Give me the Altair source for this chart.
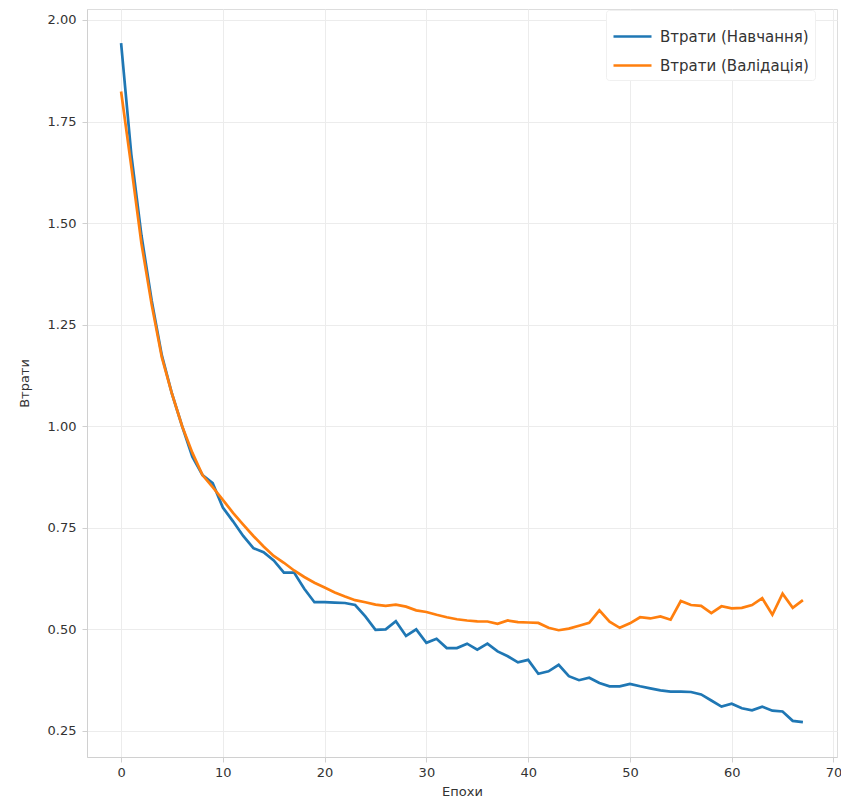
import altair as alt
import pandas as pd

# Epoch indices and per-epoch loss values
epochs = list(range(68))

train_loss = [
    1.943, 1.67, 1.47, 1.31, 1.175, 1.08, 1.00, 0.925, 0.88, 0.86,
    0.80, 0.766, 0.73, 0.70, 0.69, 0.67, 0.64, 0.64, 0.60, 0.567,
    0.567, 0.566, 0.565, 0.56, 0.532, 0.499, 0.50, 0.52, 0.484, 0.50,
    0.467, 0.477, 0.454, 0.454, 0.465, 0.450, 0.465, 0.446, 0.434, 0.419,
    0.425, 0.391, 0.397, 0.413, 0.385, 0.375, 0.381, 0.368, 0.36, 0.36,
    0.366, 0.36, 0.355, 0.35, 0.347, 0.347, 0.346, 0.34, 0.325, 0.31,
    0.317, 0.306, 0.301, 0.31, 0.30, 0.298, 0.275, 0.272,
]

val_loss = [
    1.824, 1.64, 1.45, 1.30, 1.17, 1.08, 1.00, 0.935, 0.88, 0.85,
    0.819, 0.787, 0.758, 0.73, 0.704, 0.681, 0.664, 0.645, 0.629, 0.615,
    0.603, 0.591, 0.581, 0.572, 0.567, 0.561, 0.558, 0.561, 0.556, 0.547,
    0.543, 0.536, 0.530, 0.525, 0.522, 0.520, 0.5195, 0.514, 0.522, 0.518,
    0.517, 0.516, 0.504, 0.498, 0.502, 0.509, 0.516, 0.547, 0.519, 0.504,
    0.515, 0.53, 0.527, 0.532, 0.524, 0.57, 0.56, 0.558, 0.54, 0.557,
    0.552, 0.553, 0.56, 0.577, 0.536, 0.588, 0.553, 0.572,
]

series_names = ["Втрати (Навчання)", "Втрати (Валідація)"]
series_colors = ["#1f77b4", "#ff7f0e"]

x_ticks = [0, 10, 20, 30, 40, 50, 60, 70]
y_ticks = [0.25, 0.50, 0.75, 1.00, 1.25, 1.50, 1.75, 2.00]

df = pd.concat([
    pd.DataFrame({"epoch": epochs, "loss": train_loss, "series": series_names[0]}),
    pd.DataFrame({"epoch": epochs, "loss": val_loss, "series": series_names[1]}),
], ignore_index=True)

FONT = "DejaVu Sans"
TEXT = "#333333"

chart = (
    alt.Chart(df)
    .mark_line(strokeWidth=2.7, clip=True)
    .encode(
        x=alt.X(
            "epoch:Q",
            title="Епохи",
            scale=alt.Scale(domain=[-3.35, 70.35], nice=False, zero=False),
            axis=alt.Axis(values=x_ticks, format="d", labelPadding=4, titlePadding=6),
        ),
        y=alt.Y(
            "loss:Q",
            title="Втрати",
            scale=alt.Scale(domain=[0.186, 2.027], nice=False, zero=False),
            axis=alt.Axis(values=y_ticks, format=".2f", labelPadding=6, titlePadding=16),
        ),
        color=alt.Color(
            "series:N",
            scale=alt.Scale(domain=series_names, range=series_colors),
            legend=alt.Legend(
                title=None,
                orient="none",
                legendX=519,
                legendY=1,
                symbolType="stroke",
                symbolSize=1444,
                symbolStrokeWidth=2.7,
                labelFontSize=15,
                labelFont=FONT,
                labelColor=TEXT,
                labelOffset=7,
                rowPadding=0,
                padding=6,
                fillColor="#ffffff",
                strokeColor="#f0f0f0",
                cornerRadius=3,
            ),
        ),
        order="epoch:Q",
    )
    .properties(
        width=750,
        height=748,
        padding={"left": 87, "top": 9, "right": 4, "bottom": 50},
        autosize=alt.AutoSizeParams(type="none"),
        background="#ffffff",
    )
    .configure_view(stroke="#dddddd", strokeWidth=1)
    .configure_axis(
        labelFont=FONT,
        titleFont=FONT,
        labelFontSize=13,
        titleFontSize=13,
        titleFontWeight="normal",
        labelColor=TEXT,
        titleColor=TEXT,
        gridColor="#ececec",
        gridWidth=1,
        domainColor="#d0d0d0",
        tickColor="#d0d0d0",
        tickSize=5,
    )
)

chart.save("out.html", embed_options={"renderer": "svg", "actions": False})
